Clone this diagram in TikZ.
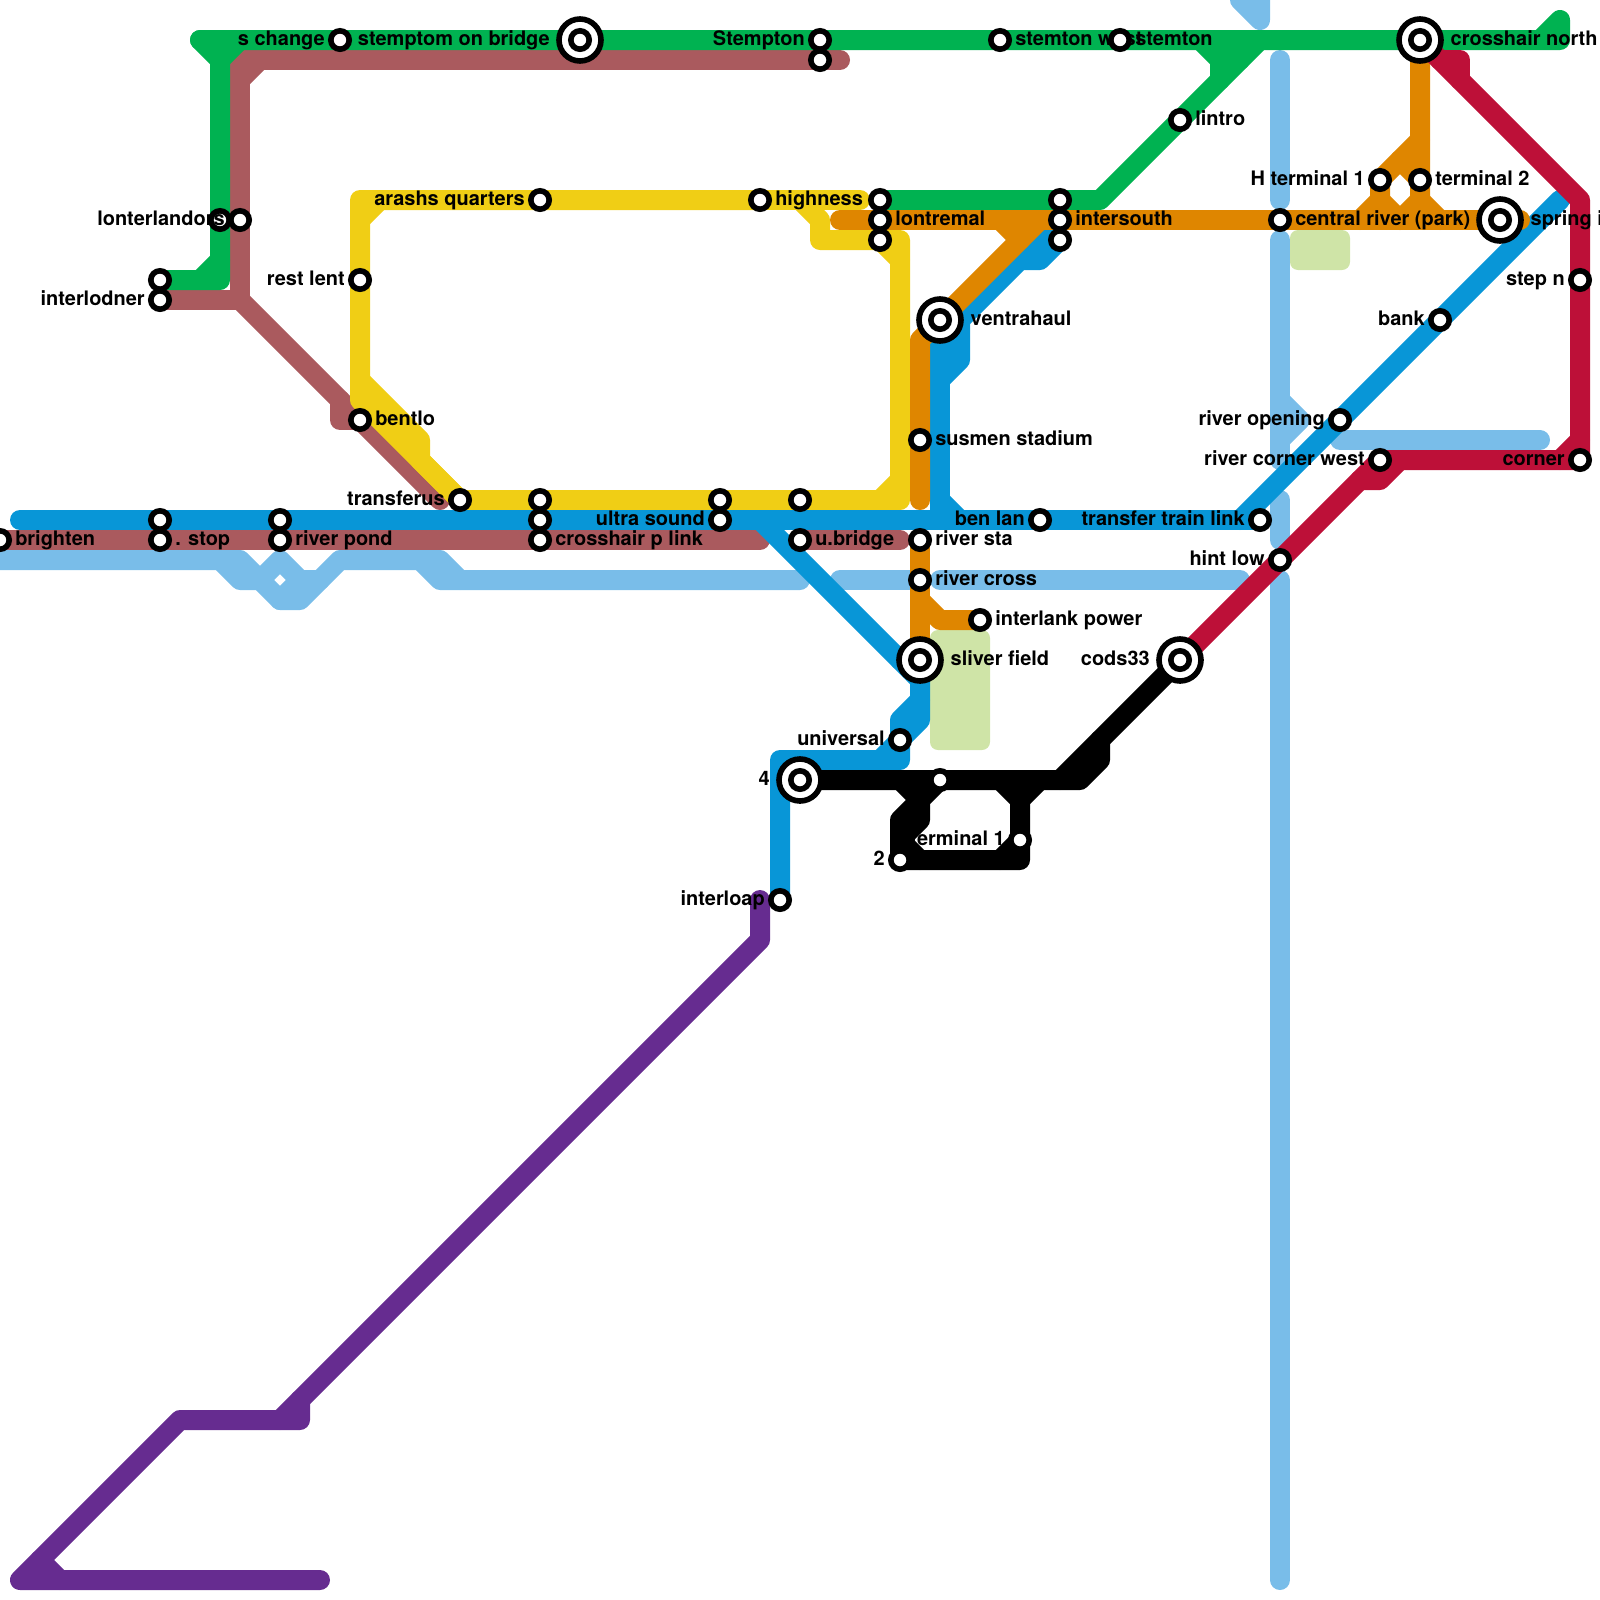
\documentclass[tikz,border=0pt]{standalone}
\usepackage{fontspec}
\setmainfont{TeX Gyre Heros}
\definecolor{lineGreen}{HTML}{00B251}
\definecolor{lineBrown}{HTML}{AA5A5E}
\definecolor{lineYellow}{HTML}{F0CE15}
\definecolor{lineOrange}{HTML}{DF8600}
\definecolor{lineBlue}{HTML}{0896D7}
\definecolor{lineSky}{HTML}{79BDE9}
\definecolor{lineRed}{HTML}{BD1038}
\definecolor{linePurple}{HTML}{662C90}
\definecolor{parkGreen}{HTML}{CFE4A7}
\pgfdeclarelayer{lines}
\pgfsetlayers{lines,main}

\begin{document}
\begin{tikzpicture}[x=.5cm,y=-.5cm,
      route/.style={line width=.5cm,line cap=round,line join=round},
      stn/.style={draw=black,fill=white,circle,line width=.14cm,minimum size=.46cm,inner sep=0pt,outer sep=0pt},
      bigstn/.style={draw=black,fill=white,circle,line width=.14cm,minimum size=1.05cm,inner sep=0pt,outer sep=0pt},
      lbl/.style={inner sep=0pt,font=\bfseries\fontsize{14.2pt}{17pt}\selectfont},
      lblr/.style={lbl,anchor=base west,xshift=.375cm,yshift=-.125cm},
      lbll/.style={lbl,anchor=base east,xshift=-.375cm,yshift=-.125cm},
      bigr/.style={lbl,anchor=base west,xshift=.76cm,yshift=-.125cm},
      bigl/.style={lbl,anchor=base east,xshift=-.75cm,yshift=-.125cm},
      park/.style={fill=parkGreen,rounded corners=.2cm}
    ]
    \useasboundingbox (0,0) rectangle (80,80);

    \node[stn] (brighten) at (0,27) {};
    \node[lblr] (brightenL) at (brighten.center) {brighten};
    \node[stn] (stopA) at (8,26) {};
    \node[stn] (stop) at (8,27) {};
    \node[lblr] (stopL) at (stop.center) {. stop};
    \node[stn] (pondA) at (14,26) {};
    \node[stn] (pond) at (14,27) {};
    \node[lblr] (pondL) at (pond.center) {river pond};
    \node[stn] (interA) at (8,14) {};
    \node[stn] (inter) at (8,15) {};
    \node[lbll] (interL) at (inter.center) {interlodner};
    \node[stn] (lonterA) at (11,11) {};
    \node[stn] (lonter) at (12,11) {};
    \node[lbll] (lonterL) at (lonter.center) {lonterlandors};
    \node[stn] (schange) at (17,2) {};
    \node[lbll] (schangeL) at (schange.center) {s change};
    \node[bigstn] (bridge) at (29,2) {};
    \node[stn] (bridgeC) at (29,2) {};
    \node[bigl] (bridgeL) at (bridge.center) {stemptom on bridge};
    \node[stn] (stempton) at (41,2) {};
    \node[lbll] (stemptonL) at (stempton.center) {Stempton};
    \node[stn] (stemptonB) at (41,3) {};
    \node[stn] (stemwest) at (50,2) {};
    \node[lblr] (stemwestL) at (stemwest.center) {stemton west};
    \node[stn] (stemton) at (56,2) {};
    \node[lblr] (stemtonL) at (stemton.center) {stemton};
    \node[stn] (lintro) at (59,6) {};
    \node[lblr] (lintroL) at (lintro.center) {lintro};
    \node[stn] (arashs) at (27,10) {};
    \node[lbll] (arashsL) at (arashs.center) {arashs quarters};
    \node[stn] (highness) at (38,10) {};
    \node[lblr] (highnessL) at (highness.center) {highness};
    \node[stn] (lontA) at (44,10) {};
    \node[stn] (lont) at (44,11) {};
    \node[lblr] (lontL) at (lont.center) {lontremal};
    \node[stn] (lontC) at (44,12) {};
    \node[stn] (southA) at (53,10) {};
    \node[stn] (south) at (53,11) {};
    \node[lblr] (southL) at (south.center) {intersouth};
    \node[stn] (southC) at (53,12) {};
    \node[stn] (restlent) at (18,14) {};
    \node[lbll] (restlentL) at (restlent.center) {rest lent};
    \node[stn] (bentlo) at (18,21) {};
    \node[lblr] (bentloL) at (bentlo.center) {bentlo};
    \node[stn] (transferus) at (23,25) {};
    \node[lbll] (transferusL) at (transferus.center) {transferus};
    \node[stn] (linkA) at (27,25) {};
    \node[stn] (linkB) at (27,26) {};
    \node[stn] (link) at (27,27) {};
    \node[lblr] (linkL) at (link.center) {crosshair p link};
    \node[stn] (ultraA) at (36,25) {};
    \node[stn] (ultra) at (36,26) {};
    \node[lbll] (ultraL) at (ultra.center) {ultra sound};
    \node[stn] (ubridgeA) at (40,25) {};
    \node[stn] (ubridge) at (40,27) {};
    \node[lblr] (ubridgeL) at (ubridge.center) {u.bridge};
    \node[stn] (susmen) at (46,22) {};
    \node[lblr] (susmenL) at (susmen.center) {susmen stadium};
    \node[bigstn] (ventra) at (47,16) {};
    \node[stn] (ventraC) at (47,16) {};
    \node[bigr] (ventraL) at (ventra.center) {ventrahaul};
    \node[stn] (rivsta) at (46,27) {};
    \node[lblr] (rivstaL) at (rivsta.center) {river sta};
    \node[stn] (rivcross) at (46,29) {};
    \node[lblr] (rivcrossL) at (rivcross.center) {river cross};
    \node[stn] (interlank) at (49,31) {};
    \node[lblr] (interlankL) at (interlank.center) {interlank power};
    \node[bigstn] (field) at (46,33) {};
    \node[stn] (fieldC) at (46,33) {};
    \node[bigr] (fieldL) at (field.center) {sliver field};
    \node[bigstn] (cods) at (59,33) {};
    \node[stn] (codsC) at (59,33) {};
    \node[bigl] (codsL) at (cods.center) {cods33};
    \node[stn] (universal) at (45,37) {};
    \node[lbll] (universalL) at (universal.center) {universal};
    \node[bigstn] (four) at (40,39) {};
    \node[stn] (fourC) at (40,39) {};
    \node[bigl] (fourL) at (four.center) {4};
    \node[stn] (midblack) at (47,39) {};
    \node[stn] (termone) at (51,42) {};
    \node[lbll] (termoneL) at (termone.center) {terminal 1};
    \node[stn] (two) at (45,43) {};
    \node[lbll] (twoL) at (two.center) {2};
    \node[lbll] (interloapL) at (39,45) {interloap};
    \node[stn] (interloap) at (39,45) {};
    \node[stn] (benlan) at (52,26) {};
    \node[lbll] (benlanL) at (benlan.center) {ben lan};
    \node[stn] (transfer) at (63,26) {};
    \node[lbll] (transferL) at (transfer.center) {transfer train link};
    \node[stn] (hintlow) at (64,28) {};
    \node[lbll] (hintlowL) at (hintlow.center) {hint low};
    \node[stn] (opening) at (67,21) {};
    \node[lbll] (openingL) at (opening.center) {river opening};
    \node[stn] (rivwest) at (69,23) {};
    \node[lbll] (rivwestL) at (rivwest.center) {river corner west};
    \node[stn] (corner) at (79,23) {};
    \node[lbll] (cornerL) at (corner.center) {corner};
    \node[stn] (stepn) at (79,14) {};
    \node[lbll] (stepnL) at (stepn.center) {step n};
    \node[stn] (bank) at (72,16) {};
    \node[lbll] (bankL) at (bank.center) {bank};
    \node[stn] (central) at (64,11) {};
    \node[lblr] (centralL) at (central.center) {central river (park)};
    \node[stn] (termA) at (69,9) {};
    \node[lbll] (termAL) at (termA.center) {H terminal 1};
    \node[stn] (termB) at (71,9) {};
    \node[lblr] (termBL) at (termB.center) {terminal 2};
    \node[bigstn] (spring) at (75,11) {};
    \node[stn] (springC) at (75,11) {};
    \node[bigr] (springL) at (spring.center) {spring i};
    \node[bigstn] (crossnorth) at (71,2) {};
    \node[stn] (crossnorthC) at (71,2) {};
    \node[bigr] (crossnorthL) at (crossnorth.center) {crosshair north};

    \begin{pgfonlayer}{lines}
      \fill[park] (46.5,31.5) rectangle (49.5,37.5);
      \fill[park] (64.5,11.5) rectangle (67.5,13.5);

      \draw[route,lineSky] (-1,28) -- (12,28) -- (14,30) -- (15,30) -- (17,28) -- (22,28) -- (23,29) -- (40,29);
      \draw[route,lineSky] (11,28) -- (12,29) -- (13,29) -- (14,28) -- (15,29) -- (16,29);
      \draw[route,lineSky] (21,28) -- (22,29) -- (23,29);
      \draw[route,lineSky] (15,29) -- (14,30);
      \draw[route,lineSky] (42,29) -- (rivcross.center);
      \draw[route,lineSky] (47,29) -- (62,29);
      \draw[route,lineSky] (64,3) -- (64,10);
      \draw[route,lineSky] (64,12) -- (64,23);
      \draw[route,lineSky] (64,20) -- (65,21) -- (64,22);
      \draw[route,lineSky] (64,25) -- (64,27);
      \draw[route,lineSky] (64,29) -- (64,79);
      \draw[route,lineSky] (67,22) -- (77,22);
      \draw[route,lineSky] (62,0) -- (63,1) -- (63,0);

      \draw[route,linePurple] (38,45) -- (38,47) -- (14,71);
      \draw[route,linePurple] (15,70) -- (15,71) -- (9,71) -- (1,79) -- (16,79);
      \draw[route,linePurple] (2,78) -- (3,79);

      \draw[route,lineBrown] (stemptonB.center) -- (42,3);
      \draw[route,lineBrown] (stemptonB.center) -- (12,3) -- (lonter.center) -- (12,15) -- (inter.center);
      \draw[route,lineBrown] (13,3) -- (12,4);
      \draw[route,lineBrown] (12,15) -- (bentlo.center) -- (22,25);
      \draw[route,lineBrown] (17,20) -- (17,21) -- (bentlo.center);
      \draw[route,lineBrown] (brighten.center) -- (stop.center) -- (pond.center) -- (link.center) -- (38,27);
      \draw[route,lineBrown] (ubridge.center) -- (45,27);

      \draw[route,lineYellow] (highness.center) -- (arashs.center) -- (18,10) -- (restlent.center) -- (18,20) -- (transferus.center);
      \draw[route,lineYellow] (18,11) -- (19,10);
      \draw[route,lineYellow] (18,19) -- (21,22) -- (21,23) -- (23,25);
      \draw[route,lineYellow] (highness.center) -- (43,10);
      \draw[route,lineYellow] (40,10) -- (41,11) -- (41,12) -- (lontC.center) -- (45,12) -- (45,25) -- (ubridgeA.center) -- (ultraA.center) -- (linkA.center) -- (transferus.center);
      \draw[route,lineYellow] (lontC.center) -- (45,13);
      \draw[route,lineYellow] (44,25) -- (45,24);

      \draw[route,lineGreen] (10,2) -- (schange.center) -- (bridge.center) -- (stempton.center) -- (stemwest.center) -- (stemton.center) -- (crossnorth.center) -- (78,2) -- (78,1) -- (77,2);
      \draw[route,lineGreen] (10,2) -- (11,3) -- (lonterA.center) -- (11,14) -- (interA.center);
      \draw[route,lineGreen] (11,3) -- (12,2);
      \draw[route,lineGreen] (10,14) -- (11,13);
      \draw[route,lineGreen] (lontA.center) -- (southA.center) -- (55,10) -- (lintro.center) -- (63,2);
      \draw[route,lineGreen] (60,2) -- (61,3) -- (61,4);
      \draw[route,lineGreen] (61,3) -- (62,3) -- (62,2) -- (61,2) -- (61,3);

      \draw[route,lineBlue] (1,26) -- (stopA.center) -- (pondA.center) -- (linkB.center) -- (ultra.center) -- (benlan.center) -- (transfer.center);
      \draw[route,lineBlue] (62,26) -- (opening.center) -- (bank.center) -- (78,10);
      \draw[route,lineBlue] (38,26) -- (45,33) -- (field.center) -- (46,35) -- (45,36) -- (universal.center) -- (45,38) -- (39,38) -- (interloap.center);
      \draw[route,lineBlue] (45,33) -- (46,34);
      \draw[route,lineBlue] (46,35) -- (46,36) -- (universal.center) -- (44,38);
      \draw[route,lineBlue] (ventra.center) -- (47,26);
      \draw[route,lineBlue] (47,25) -- (48,26);
      \draw[route,lineBlue] (ventra.center) -- (48,16) -- (48,18) -- (47,19);
      \draw[route,lineBlue] (48,16) -- (52,12) -- (southC.center) -- (52,13) -- (51,13) -- (48,16);

      \draw[route,lineOrange] (42,11) -- (lont.center) -- (south.center) -- (central.center) -- (spring.center) -- (76,11);
      \draw[route,lineOrange] (52,11) -- (ventra.center) -- (46,17) -- (susmen.center) -- (46,25);
      \draw[route,lineOrange] (50,11) -- (51,12);
      \draw[route,lineOrange] (rivsta.center) -- (rivcross.center) -- (field.center);
      \draw[route,lineOrange] (46,30) -- (47,31) -- (interlank.center);
      \draw[route,lineOrange] (crossnorth.center) -- (termB.center) -- (71,10) -- (70,11);
      \draw[route,lineOrange] (71,10) -- (72,11);
      \draw[route,lineOrange] (71,7) -- (termA.center) -- (69,10) -- (68,11);
      \draw[route,lineOrange] (69,10) -- (70,11);
      \draw[route,lineOrange] (70,8) -- (71,9);

      \draw[route,lineRed] (crossnorth.center) -- (79,10) -- (stepn.center) -- (corner.center) -- (rivwest.center) -- (hintlow.center) -- (cods.center);
      \draw[route,lineRed] (73,4) -- (73,3) -- (72,3);
      \draw[route,lineRed] (78,23) -- (79,22);
      \draw[route,lineRed] (68,24) -- (69,24) -- (70,23);

      \draw[route,black] (four.center) -- (midblack.center) -- (54,39) -- (55,38) -- (55,37);
      \draw[route,black] (53,39) -- (cods.center);
      \draw[route,black] (45,39) -- (46,40) -- (45,41) -- (two.center) -- (51,43) -- (termone.center) -- (51,40) -- (50,39);
      \draw[route,black] (midblack.center) -- (46,40) -- (46,41) -- (45,42) -- (46,43);
      \draw[route,black] (51,40) -- (52,39);
      \draw[route,black] (50,43) -- (termone.center);
    \end{pgfonlayer}
  \end{tikzpicture}
\end{document}
